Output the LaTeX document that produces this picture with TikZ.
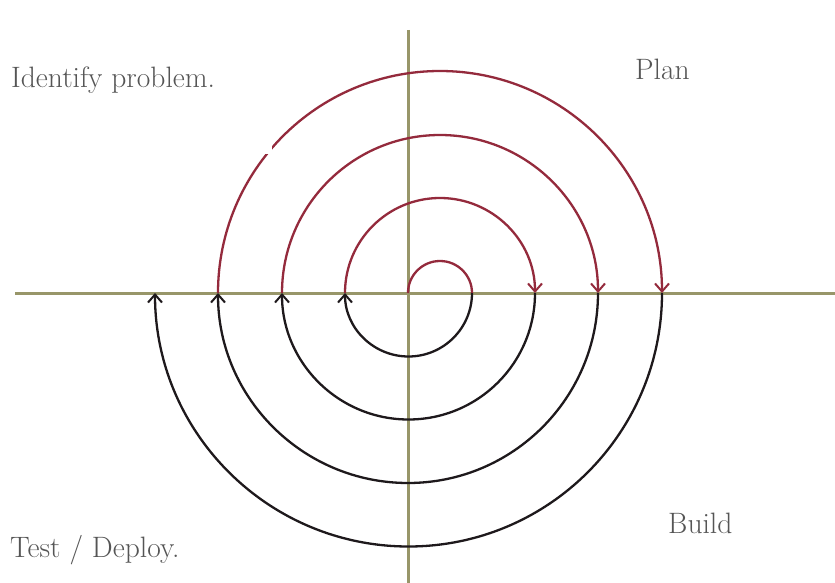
\documentclass[tikz,border=0pt]{standalone}
\usetikzlibrary{arrows.meta}
\definecolor{axiscol}{RGB}{152,150,105}
\definecolor{redarc}{RGB}{148,42,60}
\definecolor{blackarc}{RGB}{30,25,28}
\definecolor{txtcol}{RGB}{85,85,85}
\begin{document}
\begin{tikzpicture}[x=1pt,y=-1pt,
  axis/.style={draw=axiscol,line width=3pt},
  uparc/.style={draw=redarc,line width=2.3pt},
  downarc/.style={draw=blackarc,line width=2.3pt},
  tip/.style={-{Straight Barb[length=8pt,width=14pt,line width=2pt]}},
  lbl/.style={font=\fontsize{29.5}{32}\selectfont,text=txtcol,inner sep=0pt,anchor=base west}]
\useasboundingbox (0,0) rectangle (835,583);
\fill[white] (0,0) rectangle (835,583);
% axes
\coordinate (hl) at (15,293);
\coordinate (hr) at (835,293);
\coordinate (vt) at (408,30);
\coordinate (vb) at (408,583);
\draw[axis] (hl) -- (hr);
\draw[axis] (vt) -- (vb);
% spiral points on the horizontal axis
\coordinate (p0) at (408,293);
\coordinate (q1) at (472,293);
\coordinate (p1) at (345,293);
\coordinate (q2) at (535,293);
\coordinate (p2) at (282,293);
\coordinate (q3) at (598,293);
\coordinate (p3) at (218,293);
\coordinate (q4) at (662,293);
\coordinate (p4) at (155,293);
% red upper arcs
\draw[uparc] (p0) arc[start angle=180,end angle=360,radius=32];
\draw[uparc,tip] (p1) arc[start angle=180,end angle=360,radius=95];
\draw[uparc,tip] (p2) arc[start angle=180,end angle=360,radius=158];
\draw[uparc,tip] (p3) arc[start angle=180,end angle=360,radius=222];
% black lower arcs
\draw[downarc,tip] (q1) arc[start angle=0,end angle=180,radius=63.5];
\draw[downarc,tip] (q2) arc[start angle=0,end angle=180,radius=126.5];
\draw[downarc,tip] (q3) arc[start angle=0,end angle=180,radius=190];
\draw[downarc,tip] (q4) arc[start angle=0,end angle=180,radius=253.5];
% white patch
\fill[white] (240,110) rectangle (272,154);
% labels
\node[lbl] (idp) at (11,88) {Identify problem.};
\node[lbl] (plan) at (635,80) {Plan};
\node[lbl] (test) at (10,557) {Test / Deploy.};
\node[lbl] (build) at (668,533) {Build};
\end{tikzpicture}
\end{document}
